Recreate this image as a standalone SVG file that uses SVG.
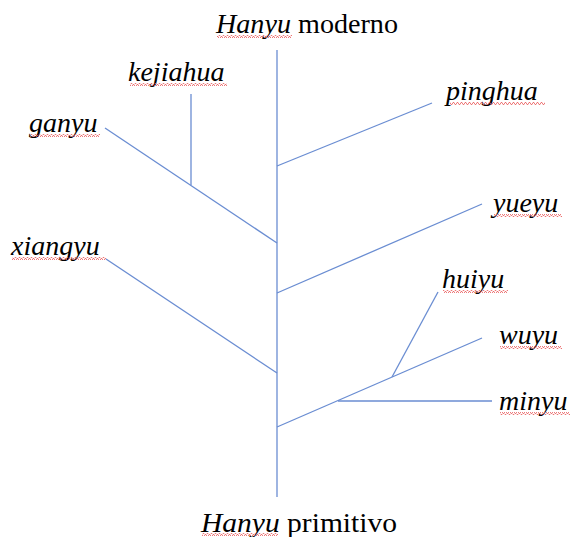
<svg xmlns="http://www.w3.org/2000/svg" width="572" height="537" viewBox="0 0 572 537">
<style>
.lbl{font-family:"Liberation Serif","Times New Roman",serif;font-size:28px;fill:#000}
.it{font-style:italic}
.ln{stroke:#6A8DD2;stroke-width:1.3;fill:none}
.sq{fill:url(#sq)}
</style>
<defs>
<pattern id="sq" width="4" height="3" patternUnits="userSpaceOnUse">
<path d="M0,2.5 L1,0.5 L2,0.5 L3,2.5 L4,2.5" stroke="#E8595A" stroke-width="0.8" fill="none"/>
</pattern>
</defs>
<rect width="572" height="537" fill="#fff"/>
<g id="connectors">
<line class="ln" x1="277" y1="50" x2="277" y2="497"/>
<line class="ln" x1="105" y1="128" x2="277" y2="243"/>
<line class="ln" x1="191" y1="94" x2="191" y2="185"/>
<line class="ln" x1="277" y1="166" x2="432" y2="103"/>
<line class="ln" x1="277" y1="293" x2="482" y2="204"/>
<line class="ln" x1="106" y1="259" x2="277" y2="373"/>
<line class="ln" x1="277" y1="427" x2="482" y2="338"/>
<line class="ln" x1="392" y1="377" x2="438" y2="292"/>
<line class="ln" x1="338" y1="401" x2="492" y2="401"/>
</g>
<g id="hanyu-moderno">
<text class="lbl" x="216" y="33" textLength="182" lengthAdjust="spacingAndGlyphs"><tspan class="it">Hanyu</tspan> moderno</text>
<rect class="sq" x="217" y="35" width="75" height="3"/>
</g>
<g id="hanyu-primitivo">
<text class="lbl" x="201" y="532" textLength="196" lengthAdjust="spacingAndGlyphs"><tspan class="it">Hanyu</tspan> primitivo</text>
<rect class="sq" x="202" y="533" width="76" height="3"/>
</g>
<g id="kejiahua">
<text class="lbl it" x="128" y="81">kejiahua</text>
<rect class="sq" x="130" y="83" width="97" height="3"/>
</g>
<g id="ganyu">
<text class="lbl it" x="29" y="132">ganyu</text>
<rect class="sq" x="30" y="134" width="70" height="3"/>
</g>
<g id="xiangyu">
<text class="lbl it" x="11" y="255">xiangyu</text>
<rect class="sq" x="12" y="257" width="94" height="3"/>
</g>
<g id="pinghua">
<text class="lbl it" x="446" y="100">pinghua</text>
<rect class="sq" x="450" y="102" width="95" height="3"/>
</g>
<g id="yueyu">
<text class="lbl it" x="493" y="212">yueyu</text>
<rect class="sq" x="494" y="214" width="68" height="3"/>
</g>
<g id="huiyu">
<text class="lbl it" x="442" y="288">huiyu</text>
<rect class="sq" x="443" y="290" width="65" height="3"/>
</g>
<g id="wuyu">
<text class="lbl it" x="499" y="344">wuyu</text>
<rect class="sq" x="500" y="346" width="62" height="3"/>
</g>
<g id="minyu">
<text class="lbl it" x="499" y="410">minyu</text>
<rect class="sq" x="500" y="412" width="70" height="3"/>
</g>
</svg>
